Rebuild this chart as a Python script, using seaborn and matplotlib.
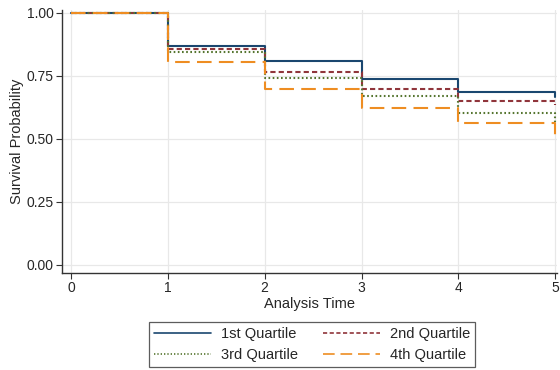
import pandas as pd
import matplotlib
matplotlib.use("Agg")
import matplotlib.pyplot as plt
import seaborn as sns

# Kaplan-Meier style step curves
times = [0, 1, 2, 3, 4, 5]
q1 = [1.00, 0.869, 0.806, 0.738, 0.687, 0.667]
q2 = [1.00, 0.856, 0.766, 0.697, 0.648, 0.635]
q3 = [1.00, 0.843, 0.741, 0.668, 0.602, 0.567]
q4 = [1.00, 0.804, 0.698, 0.620, 0.561, 0.516]
labels = ["1st Quartile", "2nd Quartile", "3rd Quartile", "4th Quartile"]

x_ticks = [0, 1, 2, 3, 4, 5]
y_ticks = [0.00, 0.25, 0.50, 0.75, 1.00]

sns.set_theme(style="white")
plt.rcParams['font.family'] = ['Liberation Sans', 'DejaVu Sans']

rows = []
for lab, vals in zip(labels, [q1, q2, q3, q4]):
    for t, v in zip(times, vals):
        rows.append({"time": t, "surv": v, "group": lab})
df = pd.DataFrame(rows)

palette = {
    "1st Quartile": "#1a476f",
    "2nd Quartile": "#90353b",
    "3rd Quartile": "#55752f",
    "4th Quartile": "#ee8d22",
}
dashes = {
    "1st Quartile": "",
    "2nd Quartile": (2.5, 1.5),
    "3rd Quartile": (0.8, 1.2),
    "4th Quartile": (7, 3.5),
}

fig = plt.figure(figsize=(5.6, 3.7), dpi=100)
ax = fig.add_axes([0.111, 0.262, 0.884, 0.711])

sns.lineplot(data=df, x="time", y="surv", hue="group", style="group",
             palette=palette, dashes=dashes, drawstyle="steps-post",
             linewidth=1.5, ax=ax, legend=False)

ax.set_xlim(-0.09, 5.02)
ax.set_ylim(-0.032, 1.01)
ax.set_xticks(x_ticks)
ax.set_xticklabels([str(t) for t in x_ticks])
ax.set_yticks(y_ticks)
ax.set_yticklabels([f"{v:.2f}" for v in y_ticks])
ax.grid(True, color="#e8e8e8", linewidth=0.9)
ax.set_axisbelow(True)

for side in ["top", "right"]:
    ax.spines[side].set_visible(False)
for side in ["left", "bottom"]:
    ax.spines[side].set_color("#333333")
    ax.spines[side].set_linewidth(1.0)

ax.tick_params(axis="both", which="major", length=4, width=0.8, color="#333333",
               labelsize=10, direction="out", pad=2, bottom=True, left=True)
ax.set_xlabel("Analysis Time", fontsize=10.5, labelpad=1)
ax.set_ylabel("Survival Probability", fontsize=10.5, labelpad=2)

handles = {}
for lab in labels:
    if dashes[lab]:
        h, = ax.plot([], [], color=palette[lab], linewidth=1.2, dashes=dashes[lab])
    else:
        h, = ax.plot([], [], color=palette[lab], linewidth=1.2, linestyle="-")
    handles[lab] = h

# row-major order: 1st, 2nd on top row; 3rd, 4th below
order = ["1st Quartile", "3rd Quartile", "2nd Quartile", "4th Quartile"]
leg = fig.legend([handles[k] for k in order], order, loc="lower center",
                 bbox_to_anchor=(0.557, 0.0), ncol=2, fontsize=10.5,
                 frameon=True, fancybox=False, handlelength=3.9,
                 columnspacing=1.7, borderpad=0.35, labelspacing=0.45,
                 handletextpad=0.7, borderaxespad=0.2)
leg.get_frame().set_edgecolor("#333333")
leg.get_frame().set_linewidth(0.9)

fig.savefig("out.png", dpi=100)
